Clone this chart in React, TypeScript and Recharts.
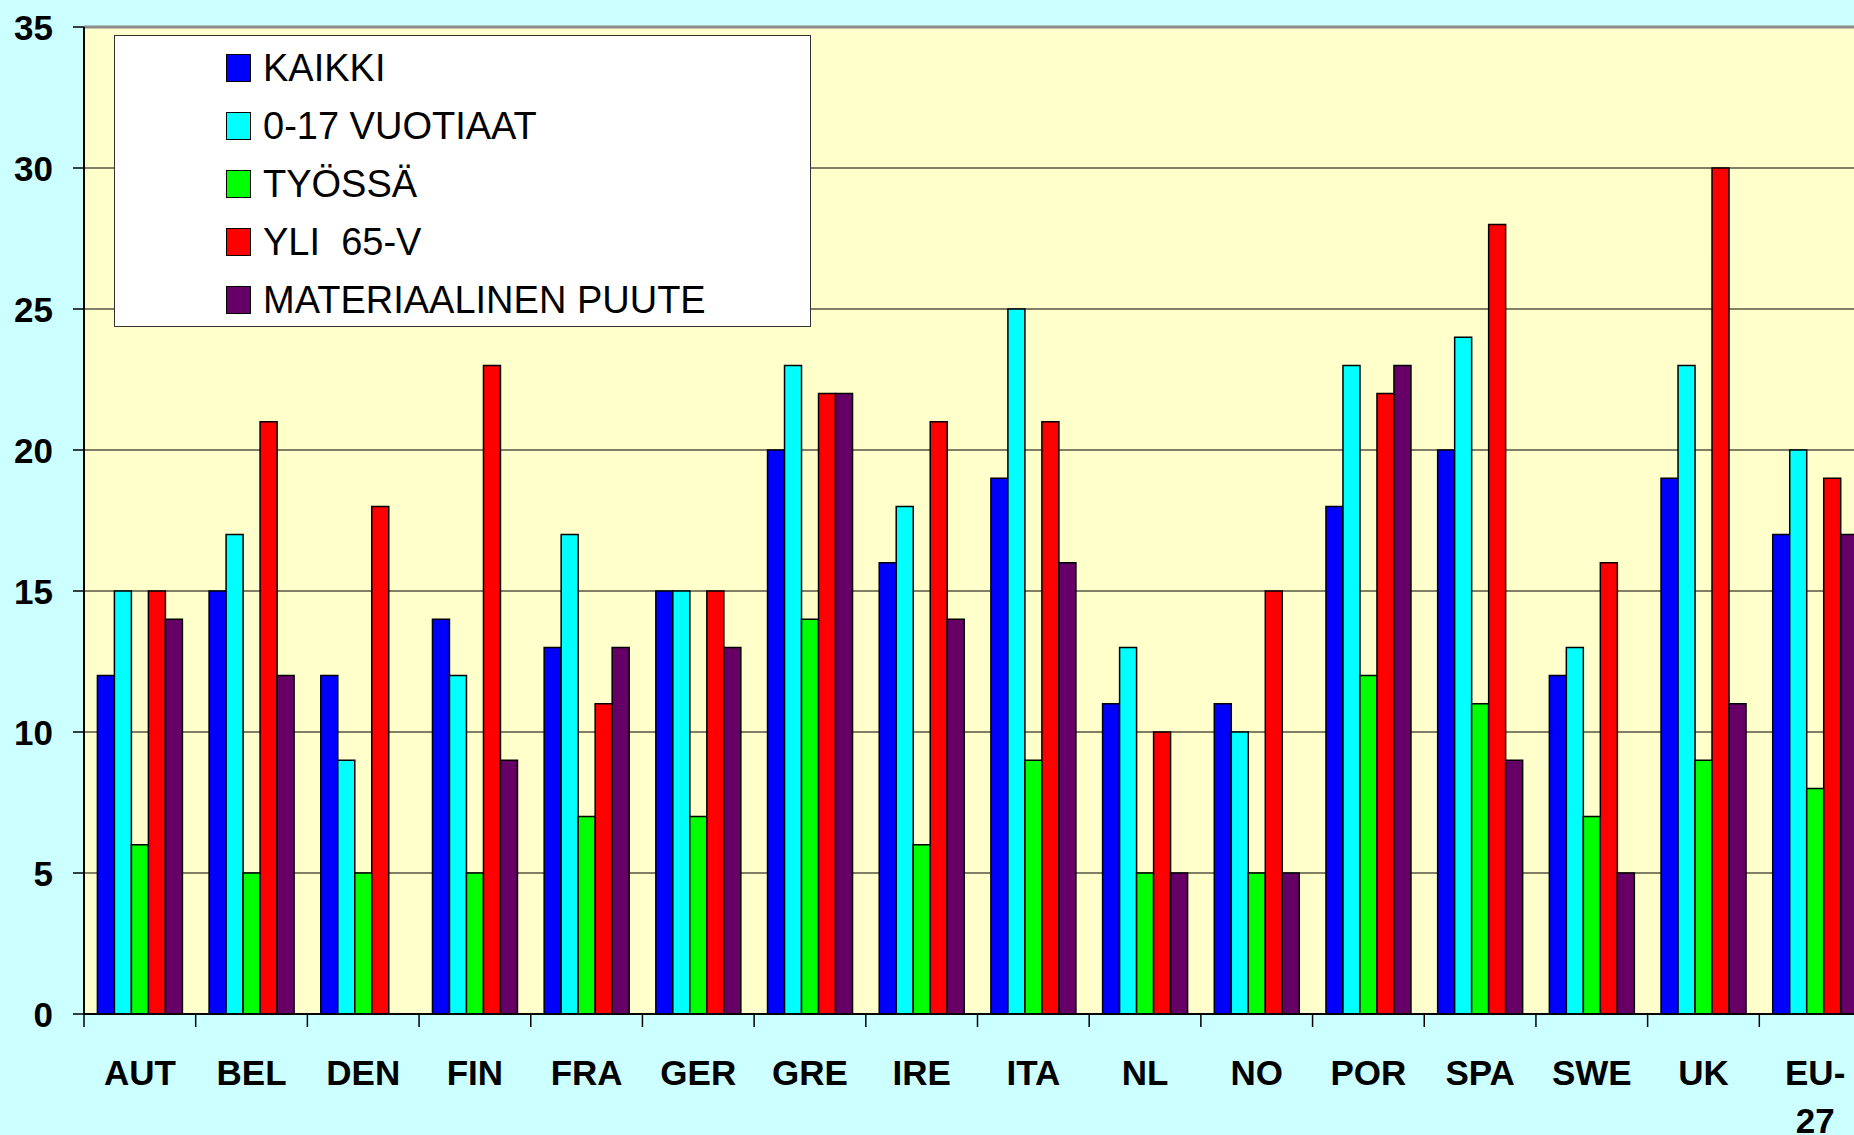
import React from 'react';
import { BarChart, Bar, XAxis, YAxis, CartesianGrid, Legend, ReferenceLine } from 'recharts';

const categories = ['AUT', 'BEL', 'DEN', 'FIN', 'FRA', 'GER', 'GRE', 'IRE', 'ITA', 'NL', 'NO', 'POR', 'SPA', 'SWE', 'UK', 'EU-27'];
const kaikki = [12, 15, 12, 14, 13, 15, 20, 16, 19, 11, 11, 18, 20, 12, 19, 17];
const lapset = [15, 17, 9, 12, 17, 15, 23, 18, 25, 13, 10, 23, 24, 13, 23, 20];
const tyossa = [6, 5, 5, 5, 7, 7, 14, 6, 9, 5, 5, 12, 11, 7, 9, 8];
const yli65 = [15, 21, 18, 23, 11, 15, 22, 21, 21, 10, 15, 22, 28, 16, 30, 19];
const puute: (number | null)[] = [14, 12, null, 9, 13, 13, 22, 14, 16, 5, 5, 23, 9, 5, 11, 17];
const yTicks = [0, 5, 10, 15, 20, 25, 30, 35];

const seriesNames = ['KAIKKI', '0-17 VUOTIAAT', 'TYÖSSÄ', 'YLI  65-V', 'MATERIAALINEN PUUTE'];
const seriesKeys = ['kaikki', 'lapset', 'tyossa', 'yli65', 'puute'];
const seriesColors = ['#0000FF', '#00FFFF', '#00FF00', '#FF0000', '#660066'];

const data = categories.map((c, i) => ({
  name: c,
  kaikki: kaikki[i],
  lapset: lapset[i],
  tyossa: tyossa[i],
  yli65: yli65[i],
  puute: puute[i],
}));

const FONT = '"Liberation Sans", Arial, sans-serif';

const YTick = (props: any) => {
  const { x, y, payload } = props;
  return (
    <text x={x} y={y} textAnchor="end" dominantBaseline="central" fontSize={35} fontWeight="bold" fontFamily={FONT} fill="#000">
      {payload.value}
    </text>
  );
};

const XTick = (props: any) => {
  const { x, y, payload, width, visibleTicksCount } = props;
  const v: string = String(payload.value);
  const idx = v.indexOf('-');
  const lines = idx >= 0 ? [v.slice(0, idx + 1), v.slice(idx + 1)] : [v];
  const band = width && visibleTicksCount ? width / visibleTicksCount : 0;
  const bx = x - band / 2;
  return (
    <g>
      {band > 0 && <line x1={bx} x2={bx} y1={y} y2={y + 13} stroke="#000" strokeWidth={1.5} />}
      <text x={x} y={y} textAnchor="middle" fontSize={35} fontWeight="bold" fontFamily={FONT} fill="#000">
        {lines.map((l, i) => (
          <tspan key={i} x={x} dy={i === 0 ? 71 : 48}>{l}</tspan>
        ))}
      </text>
    </g>
  );
};

const LegendBox = () => (
  <div
    style={{
      width: 695,
      height: 290,
      background: '#FFFFFF',
      border: '1px solid #333',
      position: 'relative',
      fontFamily: FONT,
    }}
  >
    {seriesNames.map((n, i) => (
      <div
        key={n}
        style={{
          position: 'absolute',
          left: 111,
          top: 17 + i * 58,
          height: 30,
          display: 'flex',
          alignItems: 'center',
          whiteSpace: 'pre',
        }}
      >
        <div style={{ width: 23, height: 26, background: seriesColors[i], border: '1.5px solid #000', marginRight: 12 }} />
        <span style={{ fontSize: 38, color: '#000', lineHeight: '30px', whiteSpace: 'pre' }}>{n}</span>
      </div>
    ))}
  </div>
);

export default function App() {
  return (
    <div
      style={{
        position: 'absolute',
        left: 0,
        top: 0,
        width: 1854,
        height: 1135,
        overflow: 'hidden',
        background: '#CCFFFF',
      }}
    >
      <BarChart
        width={1871}
        height={1135}
        data={data}
        margin={{ top: 27, right: 0, left: 0, bottom: 0 }}
        barCategoryGap="12%"
        barGap={0}
      >
        <CartesianGrid vertical={false} stroke="#000" strokeWidth={1.2} fill="#FFFFCC" fillOpacity={1} />
        <XAxis
          dataKey="name"
          height={121}
          tick={XTick}
          tickLine={false}
          tickSize={0}
          tickMargin={0}
          interval={0}
          axisLine={{ stroke: '#000', strokeWidth: 2 }}
        />
        <YAxis
          width={84}
          domain={[0, 35]}
          ticks={yTicks}
          interval={0}
          tick={YTick}
          tickSize={11}
          tickMargin={20}
          tickLine={{ stroke: '#000', strokeWidth: 1.5 }}
          axisLine={{ stroke: '#000', strokeWidth: 2 }}
          allowDataOverflow
        />
        <ReferenceLine y={35} stroke="#8C8C8C" strokeWidth={3} />
        <Legend
          layout="vertical"
          align="center"
          verticalAlign="middle"
          content={LegendBox}
          wrapperStyle={{ position: 'absolute', left: 114, top: 35, width: 697, height: 292 }}
        />
        {seriesKeys.map((k, i) => (
          <Bar
            key={k}
            dataKey={k}
            name={seriesNames[i]}
            fill={seriesColors[i]}
            stroke="#000"
            strokeWidth={1.5}
            isAnimationActive={false}
          />
        ))}
      </BarChart>
    </div>
  );
}
